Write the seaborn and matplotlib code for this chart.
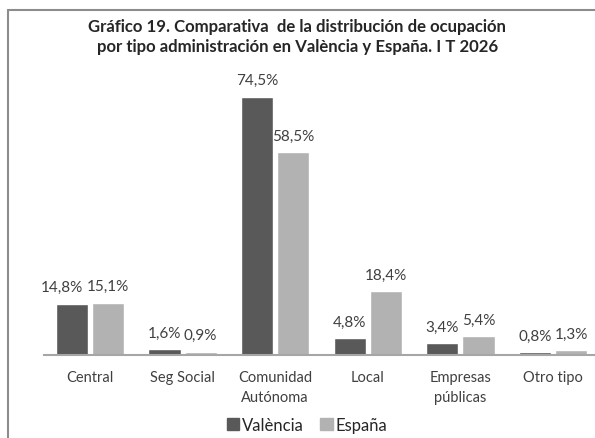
import pandas as pd
import matplotlib
matplotlib.use("Agg")
import matplotlib.pyplot as plt
import seaborn as sns
from matplotlib.lines import Line2D

categorias = ["Central", "Seg Social", "Comunidad\nAutónoma", "Local", "Empresas\npúblicas", "Otro tipo"]
valencia = [14.8, 1.6, 74.5, 4.8, 3.4, 0.8]
espana = [15.1, 0.9, 58.5, 18.4, 5.4, 1.3]
series = ["València", "España"]
colores = ["#595959", "#b2b2b2"]

df = pd.DataFrame({
    "cat": categorias * 2,
    "valor": valencia + espana,
    "serie": [series[0]] * len(categorias) + [series[1]] * len(categorias),
})

sns.set_theme(style="white")
plt.rcParams["font.family"] = ["Lato", "DejaVu Sans"]

fig = plt.figure(figsize=(5.95, 4.39), dpi=100)
ax = fig.add_axes([43.7 / 595, 1 - 356 / 439, 555.6 / 595, 277 / 439])

sns.barplot(data=df, x="cat", y="valor", hue="serie", palette=colores,
            width=0.78, gap=0.11, ax=ax, legend=False, saturation=1)

for cont in ax.containers:
    etiquetas = [f"{b.get_height():.1f}%".replace(".", ",") for b in cont]
    textos = ax.bar_label(cont, labels=etiquetas, padding=7, fontsize=11, color="#404040")
    if cont is ax.containers[0]:
        # la etiqueta de Central (València) está desplazada a la izquierda en el original
        textos[0].xyann = (-7, textos[0].xyann[1])

ax.set_ylim(0, 80)
ax.set_xlim(-0.5, len(categorias) - 0.5)
ax.set_yticks([])
ax.set_xlabel("")
ax.set_ylabel("")
for s in ["top", "right", "left"]:
    ax.spines[s].set_visible(False)
ax.spines["bottom"].set_color("#a6a6a6")
ax.spines["bottom"].set_linewidth(1.5)
ax.tick_params(axis="x", length=0, pad=11, labelsize=10.5, labelcolor="#404040")
for t in ax.get_xticklabels():
    t.set_linespacing(1.55)
    t.set_verticalalignment("top")
ax.patch.set_alpha(0)

fig.text(0.5, 1 - 27 / 439, "Gráfico 19. Comparativa  de la distribución de ocupación",
         ha="center", va="center", fontsize=12.1, fontweight="bold", color="#262626")
fig.text(0.5, 1 - 47 / 439, "por tipo administración en València y España. I T 2026",
         ha="center", va="center", fontsize=12.1, fontweight="bold", color="#262626")

handles = [plt.Rectangle((0, 0), 1, 1, color=c) for c in colores]
fig.legend(handles, series, loc="center", bbox_to_anchor=(307 / 595, 1 - 426 / 439),
           ncol=2, frameon=False, fontsize=12, handlelength=0.75, handleheight=0.75,
           handletextpad=0.15, columnspacing=1.0, labelcolor="#262626")

# marco del gráfico (solo lados izquierdo y superior visibles)
fig.add_artist(Line2D([8 / 595, 8 / 595], [0, 1 - 11 / 439], color="#8c8c8c", lw=1.5,
                      transform=fig.transFigure))
fig.add_artist(Line2D([8 / 595, 1], [1 - 11 / 439, 1 - 11 / 439], color="#8c8c8c", lw=1.5,
                      transform=fig.transFigure))

fig.savefig("out.png", dpi=100)
